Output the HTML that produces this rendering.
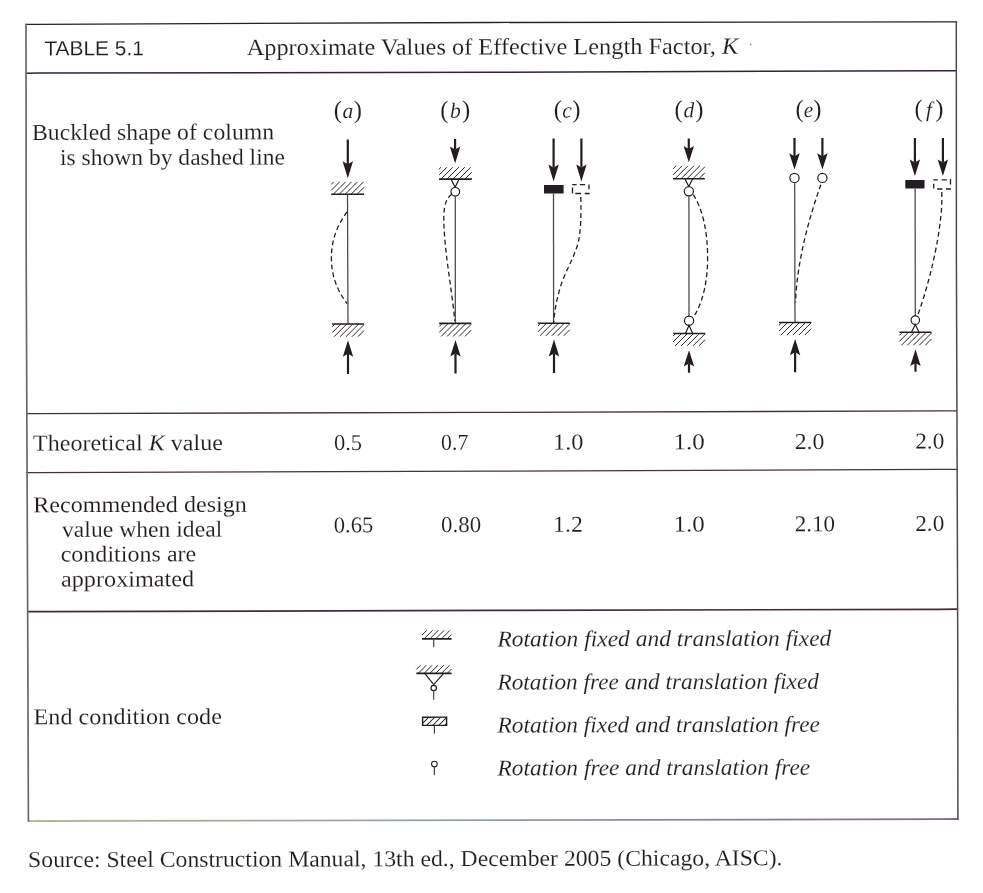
<!DOCTYPE html>
<html><head><meta charset="utf-8"><title>Table 5.1 Approximate Values of Effective Length Factor, K</title>
<style>
html,body{margin:0;padding:0;background:#fff;}
body{width:983px;height:893px;overflow:hidden;}
svg{display:block;}
.s{font-family:"Liberation Serif","Times New Roman",serif;fill:#231c22;stroke:#fff;stroke-width:0.12px;}
.i{font-family:"Liberation Serif","Times New Roman",serif;font-style:italic;fill:#231c22;stroke:#fff;stroke-width:0.12px;}
.ss{font-family:"Liberation Sans",Arial,sans-serif;fill:#231c22;stroke:#fff;stroke-width:0.1px;}
</style></head>
<body>
<svg width="983" height="893" viewBox="0 0 983 893">
<rect width="983" height="893" fill="#fff"/>
<path d="M25.3 24.4L40 24.3L490 22.5L940 21.9L957.2 21.8" stroke="#2a1f2c" stroke-width="1.3" fill="none"/>
<path d="M26 73.2L40 73.1L490 72.3L940 70.7L957 70.7" stroke="#33223a" stroke-width="1.5" fill="none"/>
<path d="M26 413.7L35 413.6L490 412.4L940 410.9L957 410.9" stroke="#4a3040" stroke-width="1.3" fill="none"/>
<path d="M26 472.7L35 472.6L490 471.1L940 469.4L957 469.4" stroke="#4a3040" stroke-width="1.3" fill="none"/>
<path d="M27 611.7L40 611.65L490 610.4L940 609.3L957.5 609.2" stroke="#48283e" stroke-width="1.7" fill="none"/>
<linearGradient id="gb" gradientUnits="userSpaceOnUse" x1="28" y1="0" x2="958" y2="0"><stop offset="0" stop-color="#b8b894"/><stop offset="0.5" stop-color="#90a0a8"/><stop offset="1" stop-color="#8a6090"/></linearGradient>
<path d="M28 821.1L40 821L490 820.2L940 819.1L958.6 819" stroke="url(#gb)" stroke-width="1.8" fill="none"/>
<path d="M26 23.7L26.2 260L27.85 660L28.4 821.8" stroke="#6a6a6a" stroke-width="1.7" fill="none"/>
<path d="M956.3 21.2L956.4 260L957.8 660L957.9 819.8" stroke="#4a4a4a" stroke-width="1.5" fill="none"/>
<g transform="rotate(-0.14 26.0 24.0)">
<path d="M347.52 140.19L347.46 165.09" stroke="#231c22" stroke-width="2.2"/>
<path d="M347.42 179.09L342.26 162.07L347.46 165.09L352.66 162.1Z" fill="#231c22"/>
<path d="M330.78 195.05L363.48 195.13" stroke="#231c22" stroke-width="1.6"/>
<path d="M330.81 185.15L333.31 182.65M330.79 191.1L339.26 182.67M332.78 195.05L345.21 182.68M338.73 195.06L351.16 182.69M344.68 195.08L357.11 182.71M350.63 195.09L363.06 182.72M356.58 195.11L363.5 188.23M362.53 195.12L363.49 194.18" stroke="#231c22" stroke-width="0.95" fill="none"/>
<path d="M347.08 195.09L347.27 324.79" stroke="#4a4548" stroke-width="1.25"/>
<path d="M346.54 212.58C336.51 226.76 330.87 240.75 330.83 258.45C330.78 276.75 336.35 290.76 346.32 304.38" stroke="#231c22" stroke-width="1.3" fill="none" stroke-dasharray="4.8 3.2"/>
<path d="M331.37 324.75L363.17 324.82" stroke="#231c22" stroke-width="1.6"/>
<path d="M331.36 327.55L334.17 324.75M331.34 333.5L340.12 324.77M333.34 337.45L346.07 324.78M339.28 337.47L352.02 324.8M345.23 337.48L357.97 324.81M351.18 337.5L363.16 325.57M357.13 337.51L363.15 331.52" stroke="#231c22" stroke-width="0.95" fill="none"/>
<path d="M347.14 374.69L347.19 354.59" stroke="#231c22" stroke-width="2.2"/>
<path d="M347.23 341.09L341.99 357.57L347.19 354.59L352.39 357.6Z" fill="#231c22"/>
<path d="M454.82 140.05L454.79 150.65" stroke="#231c22" stroke-width="2.2"/>
<path d="M454.76 164.65L449.6 147.64L454.79 150.65L460 147.66Z" fill="#231c22"/>
<path d="M438.62 180.11L471.32 180.19" stroke="#231c22" stroke-width="1.6"/>
<path d="M438.64 170.21L440.65 168.21M438.63 176.16L446.6 168.23M440.62 180.11L452.55 168.24M446.57 180.13L458.5 168.26M452.52 180.14L464.45 168.27M458.47 180.16L470.4 168.29M464.42 180.17L471.34 173.29M470.37 180.19L471.32 179.24" stroke="#231c22" stroke-width="0.95" fill="none"/>
<path d="M450.62 180.14L454.7 188.35L458.72 180.16" stroke="#231c22" stroke-width="1.2" fill="none"/>
<circle cx="454.89" cy="192.85" r="4.3" fill="#fff" stroke="#231c22" stroke-width="1.2"/>
<path d="M454.88 197.15L454.57 324.45" stroke="#4a4548" stroke-width="1.25"/>
<path d="M451.38 195.24C445.57 199.03 443.35 207.02 443.32 219.52C443.45 251.02 451.35 291.04 454.07 321.95" stroke="#231c22" stroke-width="1.3" fill="none" stroke-dasharray="4.8 3.2"/>
<path d="M438.47 324.41L470.57 324.49" stroke="#231c22" stroke-width="1.6"/>
<path d="M438.46 327.51L441.57 324.42M438.45 333.46L447.52 324.43M440.44 337.41L453.47 324.45M446.39 337.43L459.42 324.46M452.34 337.44L465.37 324.47M458.29 337.46L470.57 325.24M464.24 337.47L470.55 331.19" stroke="#231c22" stroke-width="0.95" fill="none"/>
<path d="M454.64 374.65L454.69 354.65" stroke="#231c22" stroke-width="2.2"/>
<path d="M454.73 341.05L449.49 357.64L454.69 354.65L459.89 357.66Z" fill="#231c22"/>
<path d="M553.32 139.79L553.25 168.79" stroke="#231c22" stroke-width="2.2"/>
<path d="M553.21 182.79L548.06 165.78L553.25 168.79L558.46 165.8Z" fill="#231c22"/>
<path d="M581.12 139.86L581.05 168.86" stroke="#231c22" stroke-width="2.2"/>
<path d="M581.01 182.86L575.86 165.84L581.05 168.86L586.26 165.87Z" fill="#231c22"/>
<rect x="543.61" y="186.27" width="19.6" height="8.6" fill="#231c22" stroke="none" stroke-width="0"/>
<path d="M571.81 185.93L576.21 185.94" stroke="#231c22" stroke-width="1.3"/>
<path d="M579.41 185.95L584.71 185.97" stroke="#231c22" stroke-width="1.3"/>
<path d="M588.61 185.78L588.59 190.68" stroke="#231c22" stroke-width="1.3"/>
<path d="M572.1 188.83L572.08 194.73" stroke="#231c22" stroke-width="1.3"/>
<path d="M574.88 194.84L580.58 194.86" stroke="#231c22" stroke-width="1.3"/>
<path d="M584.28 194.86L589.18 194.88" stroke="#231c22" stroke-width="1.3"/>
<path d="M553.08 194.89L552.87 324.49" stroke="#4a4548" stroke-width="1.25"/>
<path d="M580.38 198.36C580.73 216.36 580.5 229.36 578.07 242.35C574.43 257.34 565.4 271.32 560.36 286.31C556.33 299.3 553.8 311.29 553.07 323.29" stroke="#231c22" stroke-width="1.3" fill="none" stroke-dasharray="4.8 3.2"/>
<path d="M537.17 324.45L569.07 324.53" stroke="#231c22" stroke-width="1.6"/>
<path d="M537.16 327.15L539.87 324.46M537.15 333.1L545.82 324.47M539.14 337.05L551.77 324.49M545.09 337.07L557.72 324.5M551.04 337.08L563.67 324.51M556.99 337.1L569.07 325.08M562.94 337.11L569.05 331.03" stroke="#231c22" stroke-width="0.95" fill="none"/>
<path d="M553.15 374.39L553.19 354.89" stroke="#231c22" stroke-width="2.2"/>
<path d="M553.23 340.79L547.99 357.88L553.19 354.89L558.39 357.9Z" fill="#231c22"/>
<path d="M688.52 140.12L688.49 150.72" stroke="#231c22" stroke-width="2.2"/>
<path d="M688.46 163.82L683.3 147.71L688.49 150.72L693.7 147.73Z" fill="#231c22"/>
<path d="M672.62 180.38L704.42 180.46" stroke="#231c22" stroke-width="1.6"/>
<path d="M672.64 170.48L675.75 167.39M672.63 176.43L681.7 167.4M674.62 180.39L687.65 167.42M680.57 180.4L693.6 167.43M686.52 180.41L699.55 167.45M692.47 180.43L704.45 168.51M698.42 180.44L704.43 174.46" stroke="#231c22" stroke-width="0.95" fill="none"/>
<path d="M684.52 180.41L688.4 188.02L692.32 180.43" stroke="#231c22" stroke-width="1.2" fill="none"/>
<circle cx="688.39" cy="192.92" r="4.6" fill="#fff" stroke="#231c22" stroke-width="1.2"/>
<path d="M688.48 197.52L688.28 317.72" stroke="#4a4548" stroke-width="1.25"/>
<circle cx="688.37" cy="322.32" r="4.6" fill="#fff" stroke="#231c22" stroke-width="1.2"/>
<path d="M684.74 335.11L688.26 326.92L691.94 335.13" stroke="#231c22" stroke-width="1.2" fill="none"/>
<path d="M692.88 196.23C702.54 211.65 707.09 233.66 707.03 259.06C706.97 283.66 702.32 303.65 692.58 319.13" stroke="#231c22" stroke-width="1.3" fill="none" stroke-dasharray="4.8 3.2"/>
<path d="M672.44 335.08L704.44 335.16" stroke="#231c22" stroke-width="1.6"/>
<path d="M672.44 337.48L674.84 335.09M672.42 343.43L680.79 335.1M674.41 347.39L686.74 335.12M680.36 347.4L692.69 335.13M686.31 347.41L698.64 335.14M692.26 347.43L704.44 335.31M698.21 347.44L704.43 341.26" stroke="#231c22" stroke-width="0.95" fill="none"/>
<path d="M688.15 374.32L688.17 365.02" stroke="#231c22" stroke-width="2.2"/>
<path d="M688.2 351.92L682.96 368.01L688.17 365.02L693.36 368.03Z" fill="#231c22"/>
<path d="M794.22 139.98L794.17 158.18" stroke="#231c22" stroke-width="2.2"/>
<path d="M794.14 171.28L788.98 155.16L794.17 158.18L799.38 155.19Z" fill="#231c22"/>
<path d="M822.12 140.05L822.07 158.25" stroke="#231c22" stroke-width="2.2"/>
<path d="M822.04 171.35L816.88 155.23L822.07 158.25L827.28 155.26Z" fill="#231c22"/>
<circle cx="794.12" cy="179.78" r="4.6" fill="#fff" stroke="#231c22" stroke-width="1.2"/>
<circle cx="822.02" cy="179.85" r="4.6" fill="#fff" stroke="#231c22" stroke-width="1.2"/>
<path d="M794.31 184.38L794.27 324.38" stroke="#4a4548" stroke-width="1.25"/>
<path d="M820.5 186.64C809.53 216.92 796.42 261.88 794.82 304.28" stroke="#231c22" stroke-width="1.3" fill="none" stroke-dasharray="4.8 3.2"/>
<path d="M778.27 324.34L810.47 324.42" stroke="#231c22" stroke-width="1.6"/>
<path d="M778.26 327.04L780.97 324.35M778.25 332.99L786.92 324.36M780.24 336.94L792.87 324.37M786.19 336.96L798.82 324.39M792.14 336.97L804.77 324.4M798.09 336.99L810.47 324.67M804.04 337L810.45 330.62" stroke="#231c22" stroke-width="0.95" fill="none"/>
<path d="M794.25 374.08L794.3 354.08" stroke="#231c22" stroke-width="2.2"/>
<path d="M794.33 340.98L789.09 357.07L794.3 354.08L799.49 357.09Z" fill="#231c22"/>
<path d="M914.62 140.17L914.56 164.67" stroke="#231c22" stroke-width="2.2"/>
<path d="M914.53 178.27L909.37 161.66L914.56 164.67L919.77 161.68Z" fill="#231c22"/>
<path d="M942.62 140.24L942.56 164.74" stroke="#231c22" stroke-width="2.2"/>
<path d="M942.53 178.34L937.37 161.73L942.56 164.74L947.77 161.75Z" fill="#231c22"/>
<rect x="904.92" y="182.25" width="19.2" height="8.5" fill="#231c22" stroke="none" stroke-width="0"/>
<path d="M932.92 182.02L937.42 182.03" stroke="#231c22" stroke-width="1.3"/>
<path d="M941.22 182.04L946.52 182.05" stroke="#231c22" stroke-width="1.3"/>
<path d="M950.12 181.16L950.1 186.86" stroke="#231c22" stroke-width="1.3"/>
<path d="M933.31 185.92L933.3 190.82" stroke="#231c22" stroke-width="1.3"/>
<path d="M936.69 191.23L941.99 191.24" stroke="#231c22" stroke-width="1.3"/>
<path d="M945.59 191.25L950.59 191.26" stroke="#231c22" stroke-width="1.3"/>
<path d="M914.7 190.77L914.58 318.07" stroke="#4a4548" stroke-width="1.25"/>
<circle cx="914.57" cy="322.37" r="4.25" fill="#fff" stroke="#231c22" stroke-width="1.2"/>
<path d="M910.74 334.46L914.56 326.67L918.34 334.48" stroke="#231c22" stroke-width="1.2" fill="none"/>
<path d="M941.39 194.24C941.37 202.24 941.55 208.24 940.53 217.24C936.43 257.23 924.34 297.2 916.78 318.18" stroke="#231c22" stroke-width="1.3" fill="none" stroke-dasharray="4.8 3.2"/>
<path d="M898.64 334.43L930.84 334.51" stroke="#231c22" stroke-width="1.6"/>
<path d="M898.64 337.53L901.74 334.44M898.62 343.48L907.69 334.46M900.61 347.44L913.64 334.47M906.56 347.45L919.59 334.48M912.51 347.47L925.54 334.5M918.46 347.48L930.84 335.16M924.41 347.5L930.83 341.11" stroke="#231c22" stroke-width="0.95" fill="none"/>
<path d="M914.65 373.87L914.67 365.07" stroke="#231c22" stroke-width="2.2"/>
<path d="M914.7 351.47L909.46 368.06L914.67 365.07L919.86 368.09Z" fill="#231c22"/>
<path d="M420.6 639.77L450.1 639.84" stroke="#231c22" stroke-width="1.7"/>
<path d="M420.61 635.97L425.32 631.28M422.6 639.77L431.12 631.29M428.4 639.79L436.92 631.31M434.2 639.8L442.72 631.32M440 639.81L448.52 631.33M445.8 639.83L450.11 635.54" stroke="#231c22" stroke-width="0.95" fill="none"/>
<path d="M432.2 639.79L432.18 648.29" stroke="#4a4548" stroke-width="1.2"/>
<path d="M414.71 674.25L450.01 674.34" stroke="#231c22" stroke-width="1.7"/>
<path d="M414.72 670.45L419.03 666.16M416.71 674.26L424.83 666.18M422.51 674.27L430.63 666.19M428.31 674.28L436.43 666.2M434.11 674.3L442.23 666.22M439.91 674.31L448.03 666.23M445.71 674.33L450.02 670.04" stroke="#231c22" stroke-width="0.95" fill="none"/>
<path d="M423.21 674.27L432.08 685.59L442.01 674.32" stroke="#231c22" stroke-width="1.2" fill="none"/>
<circle cx="432.08" cy="688.99" r="2.7" fill="#fff" stroke="#231c22" stroke-width="1.2"/>
<path d="M432.07 691.69L432.05 700.69" stroke="#4a4548" stroke-width="1.2"/>
<rect x="420.91" y="718.17" width="24" height="8.2" fill="none" stroke="#231c22" stroke-width="1.4"/>
<clipPath id="cr"><rect x="420.91" y="718.17" width="24" height="8.2"/></clipPath>
<path clip-path="url(#cr)" d="M418.28 726.96L427.31 717.98M424.28 726.98L433.31 718M430.28 726.99L439.31 718.01M436.28 727L445.31 718.03M442.28 727.02L451.31 718.04M448.28 727.03L457.31 718.06" stroke="#231c22" stroke-width="1.0"/>
<path d="M432.68 726.9L432.66 734.8" stroke="#4a4548" stroke-width="1.2"/>
<circle cx="432.59" cy="765" r="2.8" fill="#fff" stroke="#231c22" stroke-width="1.1"/>
<path d="M432.58 767.8L432.56 776.2" stroke="#4a4548" stroke-width="1.2"/>
<circle cx="750.55" cy="46.37" r="0.8" fill="#777"/>
<text x="44.32" y="55.44" class="ss" font-size="20.5" textLength="99.54" lengthAdjust="spacingAndGlyphs">TABLE 5.1</text>
<text x="246.57" y="55.54" class="s" font-size="23.2" textLength="491.57" lengthAdjust="spacingAndGlyphs">Approximate Values of Effective Length Factor, <tspan class="i">K</tspan></text>
<text x="31.67" y="139.91" class="s" font-size="22.8" textLength="242.2" lengthAdjust="spacingAndGlyphs">Buckled shape of column</text>
<text x="59.62" y="165.08" class="s" font-size="22.8" textLength="224.99" lengthAdjust="spacingAndGlyphs">is shown by dashed line</text>
<text x="333.47" y="118.85" class="s" font-size="22.6" textLength="28.33" lengthAdjust="spacing"><tspan font-size="24.8">(</tspan><tspan class="i" font-size="21.6">a</tspan><tspan font-size="24.8">)</tspan></text>
<text x="440.07" y="118.91" class="s" font-size="22.6" textLength="30.03" lengthAdjust="spacing"><tspan font-size="24.8">(</tspan><tspan class="i" font-size="21.6">b</tspan><tspan font-size="24.8">)</tspan></text>
<text x="553.47" y="118.89" class="s" font-size="22.6" textLength="26.82" lengthAdjust="spacing"><tspan font-size="24.8">(</tspan><tspan class="i" font-size="21.6">c</tspan><tspan font-size="24.8">)</tspan></text>
<text x="674.27" y="118.98" class="s" font-size="22.6" textLength="28.93" lengthAdjust="spacing"><tspan font-size="24.8">(</tspan><tspan class="i" font-size="21.6">d</tspan><tspan font-size="24.8">)</tspan></text>
<text x="795.27" y="118.98" class="s" font-size="22.6" textLength="25.92" lengthAdjust="spacing"><tspan font-size="24.8">(</tspan><tspan class="i" font-size="21.6">e</tspan><tspan font-size="24.8">)</tspan></text>
<text x="914.27" y="118.97" class="s" font-size="22.6" textLength="29.03" lengthAdjust="spacing"><tspan font-size="24.8">(</tspan><tspan class="i" font-size="21.6">f</tspan><tspan font-size="24.8">)</tspan></text>
<text x="31.96" y="450.52" class="s" font-size="22.6" textLength="189.88" lengthAdjust="spacingAndGlyphs">Theoretical <tspan class="i">K</tspan> value</text>
<text x="332.86" y="450.75" class="s" font-size="22.6" textLength="28.25" lengthAdjust="spacingAndGlyphs">0.5</text>
<text x="440.09" y="450.81" class="s" font-size="22.6" textLength="27.31" lengthAdjust="spacingAndGlyphs">0.7</text>
<text x="552" y="450.79" class="s" font-size="22.6" textLength="30.51" lengthAdjust="spacingAndGlyphs">1.0</text>
<text x="672.54" y="450.88" class="s" font-size="22.6" textLength="31.3" lengthAdjust="spacingAndGlyphs">1.0</text>
<text x="793.61" y="450.88" class="s" font-size="22.6" textLength="29.77" lengthAdjust="spacingAndGlyphs">2.0</text>
<text x="914.13" y="450.77" class="s" font-size="22.6" textLength="29.12" lengthAdjust="spacingAndGlyphs">2.0</text>
<text x="31.94" y="512.22" class="s" font-size="22.6" textLength="213.8" lengthAdjust="spacingAndGlyphs">Recommended design</text>
<text x="60.75" y="536.99" class="s" font-size="22.6" textLength="160.23" lengthAdjust="spacingAndGlyphs">value when ideal</text>
<text x="59.32" y="561.68" class="s" font-size="22.6" textLength="135.66" lengthAdjust="spacingAndGlyphs">conditions are</text>
<text x="59.55" y="586.68" class="s" font-size="22.6" textLength="133.32" lengthAdjust="spacingAndGlyphs">approximated</text>
<text x="332.45" y="533.15" class="s" font-size="22.6" textLength="39.65" lengthAdjust="spacingAndGlyphs">0.65</text>
<text x="439.84" y="533.11" class="s" font-size="22.6" textLength="40.07" lengthAdjust="spacingAndGlyphs">0.80</text>
<text x="551.85" y="533.09" class="s" font-size="22.6" textLength="29.83" lengthAdjust="spacingAndGlyphs">1.2</text>
<text x="672.34" y="533.08" class="s" font-size="22.6" textLength="31.3" lengthAdjust="spacingAndGlyphs">1.0</text>
<text x="793.44" y="533.08" class="s" font-size="22.6" textLength="40.38" lengthAdjust="spacingAndGlyphs">2.10</text>
<text x="913.93" y="533.07" class="s" font-size="22.6" textLength="29.12" lengthAdjust="spacingAndGlyphs">2.0</text>
<text x="31.82" y="724.32" class="s" font-size="22.6" textLength="188.41" lengthAdjust="spacingAndGlyphs">End condition code</text>
<text x="495.98" y="647.55" class="i" font-size="22.6" textLength="333.82" lengthAdjust="spacingAndGlyphs">Rotation fixed and translation fixed</text>
<text x="495.87" y="690.65" class="i" font-size="22.6" textLength="321.48" lengthAdjust="spacingAndGlyphs">Rotation free and translation fixed</text>
<text x="495.77" y="733.65" class="i" font-size="22.6" textLength="322.51" lengthAdjust="spacingAndGlyphs">Rotation fixed and translation free</text>
<text x="495.66" y="776.55" class="i" font-size="22.6" textLength="312.7" lengthAdjust="spacingAndGlyphs">Rotation free and translation free</text>
<text x="26.06" y="867.1" class="s" font-size="22.8" textLength="754.4" lengthAdjust="spacingAndGlyphs">Source: Steel Construction Manual, 13th ed., December 2005 (Chicago, AISC).</text>
</g>
</svg>
</body></html>
